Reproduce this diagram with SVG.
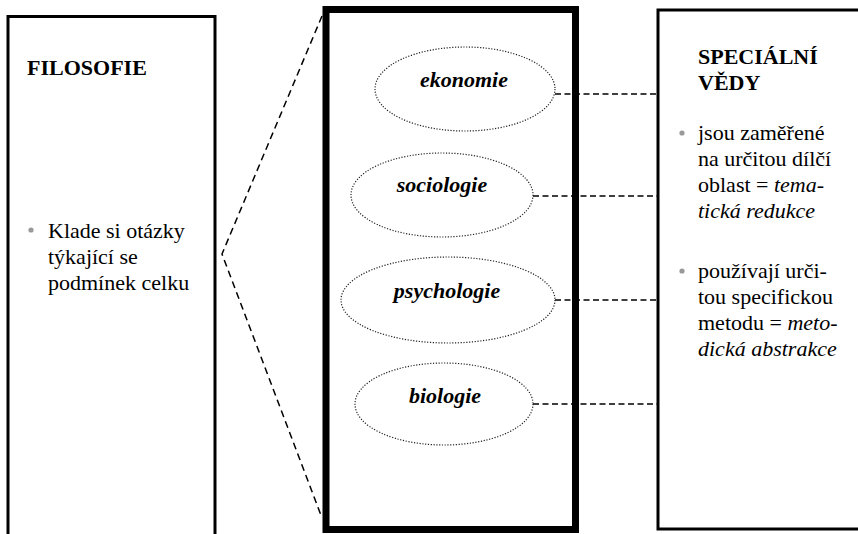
<svg xmlns="http://www.w3.org/2000/svg" width="858" height="534" viewBox="0 0 858 534">
<style>
.box{fill:#fff;stroke:#000;stroke-width:3}
.mid{fill:#fff;stroke:#000;stroke-width:7}
.ell{fill:#fff;stroke:#222;stroke-width:1.2;stroke-dasharray:1.2 1.6}
.con{fill:none;stroke:#000;stroke-width:1.5;stroke-dasharray:6 3.5}
.diag{fill:none;stroke:#000;stroke-width:1.5;stroke-dasharray:7 4.5}
text{font-family:'Liberation Serif',serif;font-size:22px;fill:#000}
.h{font-weight:bold}
.lab{font-weight:bold;font-style:italic;text-anchor:middle}
.i{font-style:italic}
.dot{fill:#999}
</style>
<rect width="858" height="534" fill="#fff"/>
<g id="filosofie">
<rect class="box" x="8" y="16.5" width="207" height="540"/>
<text class="h" x="27" y="75">FILOSOFIE</text>
<circle class="dot" cx="31" cy="230" r="2.6"/>
<text x="48" y="238">Klade si otázky</text>
<text x="48" y="264">týkající se</text>
<text x="48" y="290">podmínek celku</text>
</g>
<g id="specialni-vedy">
<rect class="box" x="658" y="10" width="240" height="519"/>
<text class="h" x="698" y="64">SPECIÁLNÍ</text>
<text class="h" x="698" y="90">VĚDY</text>
<circle class="dot" cx="682" cy="133" r="2.6"/>
<text x="698" y="140">jsou zaměřené</text>
<text x="698" y="166">na určitou dílčí</text>
<text x="698" y="192">oblast = <tspan class="i">tema-</tspan></text>
<text class="i" x="698" y="218">tická redukce</text>
<circle class="dot" cx="682" cy="271" r="2.6"/>
<text x="698" y="278">používají urči-</text>
<text x="698" y="304">tou specifickou</text>
<text x="698" y="330">metodu = <tspan class="i">meto-</tspan></text>
<text class="i" x="698" y="356">dická abstrakce</text>
</g>
<g id="vedy">
<rect class="mid" x="326" y="9.5" width="249.5" height="520"/>
</g>
<g id="connectors">
<polyline class="diag" points="322,16 222,254 322,518"/>
<line class="con" x1="555" y1="94" x2="657" y2="94"/>
<line class="con" x1="533" y1="196" x2="657" y2="196"/>
<line class="con" x1="555" y1="300" x2="657" y2="300"/>
<line class="con" x1="533" y1="404" x2="657" y2="404"/>
</g>
<g id="ekonomie">
<ellipse class="ell" cx="465" cy="89" rx="90" ry="42"/>
<text class="lab" x="464" y="87">ekonomie</text>
</g>
<g id="sociologie">
<ellipse class="ell" cx="442" cy="195" rx="91" ry="42"/>
<text class="lab" x="442" y="192">sociologie</text>
</g>
<g id="psychologie">
<ellipse class="ell" cx="448" cy="300" rx="107" ry="43"/>
<text class="lab" x="447" y="298">psychologie</text>
</g>
<g id="biologie">
<ellipse class="ell" cx="444" cy="404" rx="89" ry="41"/>
<text class="lab" x="445" y="403">biologie</text>
</g>
</svg>
